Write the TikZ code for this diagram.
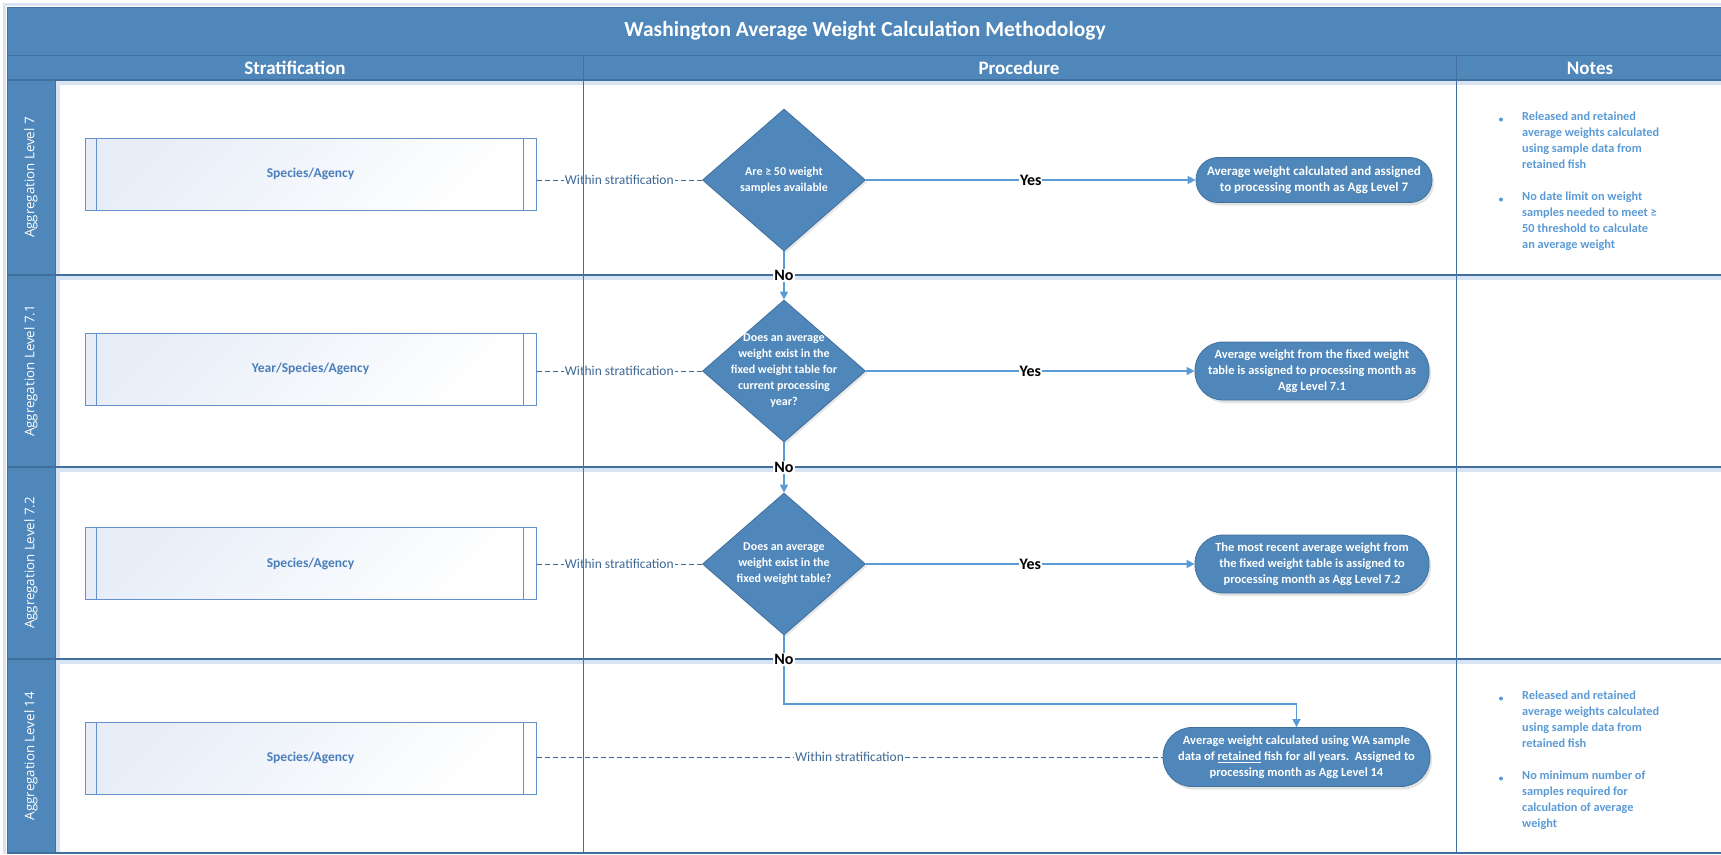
\documentclass[tikz,border=0pt]{standalone}
\usepackage{fontspec}
\setmainfont{Carlito}
\newfontfamily\lanefont{Open Sans}
\usetikzlibrary{shapes.geometric,arrows.meta,shadows}

\definecolor{band}{RGB}{79,135,186}
\definecolor{bandline}{RGB}{66,112,158}
\definecolor{glow}{RGB}{216,228,243}
\definecolor{conn}{RGB}{91,155,213}
\definecolor{shapefill}{RGB}{79,135,186}
\definecolor{shapeline}{RGB}{66,112,158}
\definecolor{boxtext}{RGB}{74,126,187}
\definecolor{boxline}{RGB}{100,145,205}
\definecolor{boxfill}{RGB}{231,238,248}
\definecolor{dashcol}{RGB}{62,104,148}
\definecolor{notecol}{RGB}{91,155,213}

\tikzset{
  bandbox/.style={fill=band, draw=bandline, line width=1pt},
  lanesep/.style={draw=bandline, line width=1.6pt},
  colsep/.style={draw=bandline, line width=1pt},
  titletext/.style={text=white, font=\bfseries\fontsize{21.5}{25}\selectfont},
  headtext/.style={text=white, font=\bfseries\fontsize{19}{22}\selectfont},
  lanetext/.style={text=white, rotate=90, font=\lanefont\fontsize{13.3}{16}\selectfont},
  stratbox/.style={draw=boxline, line width=1pt, minimum width=451pt, minimum height=72pt, inner sep=0pt,
     top color=boxfill, bottom color=white, shading angle=45, text=boxtext,
     font=\bfseries\fontsize{13.5}{16}\selectfont},
  decision/.style={diamond, fill=shapefill, draw=shapeline, line width=0.8pt, inner sep=0pt,
     minimum width=163pt, minimum height=142pt,
     drop shadow={shadow xshift=2pt, shadow yshift=-2pt, opacity=0.18}},
  dtext/.style={text=white, align=center, inner sep=0pt, font=\bfseries\fontsize{12}{16}\selectfont},
  terminal/.style={rectangle, rounded corners=#1, fill=shapefill, draw=shapeline, line width=0.8pt,
     inner sep=0pt, align=center, text=white, font=\bfseries\fontsize{12.5}{16}\selectfont,
     drop shadow={shadow xshift=2pt, shadow yshift=-3pt, opacity=0.22}},
  flow/.style={draw=conn, line width=1.4pt, -{Triangle[length=8pt,width=8pt]}},
  link/.style={draw=dashcol, line width=1pt, dash pattern=on 5pt off 3pt},
  yn/.style={fill=white, inner sep=1pt, text=black, font=\bfseries\fontsize{16}{19}\selectfont},
  within/.style={fill=white, inner sep=1pt, text=dashcol, font=\fontsize{13.5}{16}\selectfont},
  note/.style={text=notecol, font=\bfseries\fontsize{12.3}{16}\selectfont, align=left, anchor=north west, inner sep=0pt},
  bulletdot/.style={circle, fill=notecol, inner sep=0pt, minimum size=4pt}
}

\begin{document}
\begin{tikzpicture}[x=1pt,y=-1pt]
\useasboundingbox (0,0) rectangle (1721,854);
\fill[white] (0,0) rectangle (1721,854);
\draw[glow, line width=3pt] (4.5,854) -- (4.5,4.5) -- (1721,4.5);

% title and header bands
\path[bandbox] (7,7) rectangle (1730,55);
\path[bandbox] (7,55) rectangle (1730,80);
\draw[colsep] (583,55) -- (583,80) (1456,55) -- (1456,80);

% lane glows, lane column, lane separators
\foreach \y in {80,275,467,659} {
  \draw[glow, line width=4pt] (7,\y+3) -- (1730,\y+3);
}
\draw[glow, line width=4pt] (58,80) -- (58,853);
\path[bandbox] (7,80) rectangle (55,853);
\foreach \y in {80,275,467,659} {
  \draw[lanesep] (7,\y) -- (1730,\y);
}
\draw[lanesep] (7,853) -- (1730,853);

% texts of bands
\node[titletext] (title) at (865,31) {Washington Average Weight Calculation Methodology};
\node[headtext] (hstrat) at (295,68) {Stratification};
\node[headtext] (hproc) at (1019,68) {Procedure};
\node[headtext] (hnotes) at (1590,68) {Notes};

\node[lanetext] (lane1) at (31,177.5) {Aggregation Level 7};
\node[lanetext] (lane2) at (31,371) {Aggregation Level 7.1};
\node[lanetext] (lane3) at (31,563) {Aggregation Level 7.2};
\node[lanetext] (lane4) at (31,756) {Aggregation Level 14};

% stratification boxes
\node[stratbox] (s1) at (310.5,174) {Species/Agency};
\node[stratbox] (s2) at (310.5,369) {Year/Species/Agency};
\node[stratbox] (s3) at (310.5,563.5) {Species/Agency};
\node[stratbox] (s4) at (310.5,758) {Species/Agency};
\foreach \s in {s1,s2,s3,s4} {
  \draw[boxline] ([xshift=12pt]\s.north west) -- ([xshift=12pt]\s.south west);
  \draw[boxline] ([xshift=-13pt]\s.north east) -- ([xshift=-13pt]\s.south east);
}

% decisions
\node[decision] (d1) at (784,180) {};
\node[dtext] (d1t) at (d1) {Are ≥ 50 weight\\samples available};
\node[decision] (d2) at (784,371) {};
\node[dtext] (d2t) at (d2) {Does an average\\weight exist in the\\fixed weight table for\\current processing\\year?};
\node[decision] (d3) at (784,564) {};
\node[dtext] (d3t) at (d3) {Does an average\\weight exist in the\\fixed weight table?};

% terminals
\node[terminal=22pt, minimum width=236pt, minimum height=45pt, font=\bfseries\fontsize{13}{16}\selectfont] (t1) at (1314,180)
  {Average weight calculated and assigned\\to processing month as Agg Level 7};
\node[terminal=28pt, minimum width=234pt, minimum height=58pt] (t2) at (1312,371)
  {Average weight from the fixed weight\\table is assigned to processing month as\\Agg Level 7.1};
\node[terminal=28pt, minimum width=234pt, minimum height=58pt] (t3) at (1312,564)
  {The most recent average weight from\\the fixed weight table is assigned to\\processing month as Agg Level 7.2};
\node[terminal=29pt, minimum width=267pt, minimum height=59pt] (t4) at (1296.5,757)
  {Average weight calculated using WA sample\\data of \underline{retained} fish for all years.\ \ Assigned to\\processing month as Agg Level 14};

% dashed stratification links
\draw[link] (s1.east |- d1.west) -- node[within] (w1) {Within stratification} (d1.west);
\draw[link] (s2.east |- d2.west) -- node[within] (w2) {Within stratification} (d2.west);
\draw[link] (s3.east |- d3.west) -- node[within] (w3) {Within stratification} (d3.west);
\draw[link] (t4.west -| s4.east) -- node[within] (w4) {Within stratification} (t4.west);

% yes flows
\draw[flow] (d1.east) -- node[yn] (y1) {Yes} (t1.west);
\draw[flow] (d2.east) -- node[yn] (y2) {Yes} (t2.west);
\draw[flow] (d3.east) -- node[yn] (y3) {Yes} (t3.west);

% no flows
\draw[flow] (d1.south) -- node[yn] (n1) {No} (d2.north);
\draw[flow] (d2.south) -- node[yn] (n2) {No} (d3.north);
\coordinate (nbend) at (784,704);
\draw[flow] (d3.south) -- node[yn, pos=0.35] (n3) {No} (nbend) -| (t4.north);

% column separators
\draw[colsep] (583,80) -- (583,853);
\draw[colsep] (1456,80) -- (1456,853);

% notes
\node[bulletdot] (b1) at (1501,119.5) {};
\node[note] (note1) at (1522,111.5) {Released and retained\\average weights calculated\\using sample data from\\retained fish};
\node[bulletdot] (b2) at (1501,199.5) {};
\node[note] (note2) at (1522,191.5) {No date limit on weight\\samples needed to meet ≥\\50 threshold to calculate\\an average weight};
\node[bulletdot] (b3) at (1501,698.5) {};
\node[note] (note3) at (1522,690.5) {Released and retained\\average weights calculated\\using sample data from\\retained fish};
\node[bulletdot] (b4) at (1501,778.5) {};
\node[note] (note4) at (1522,770.5) {No minimum number of\\samples required for\\calculation of average\\weight};
\end{tikzpicture}
\end{document}
